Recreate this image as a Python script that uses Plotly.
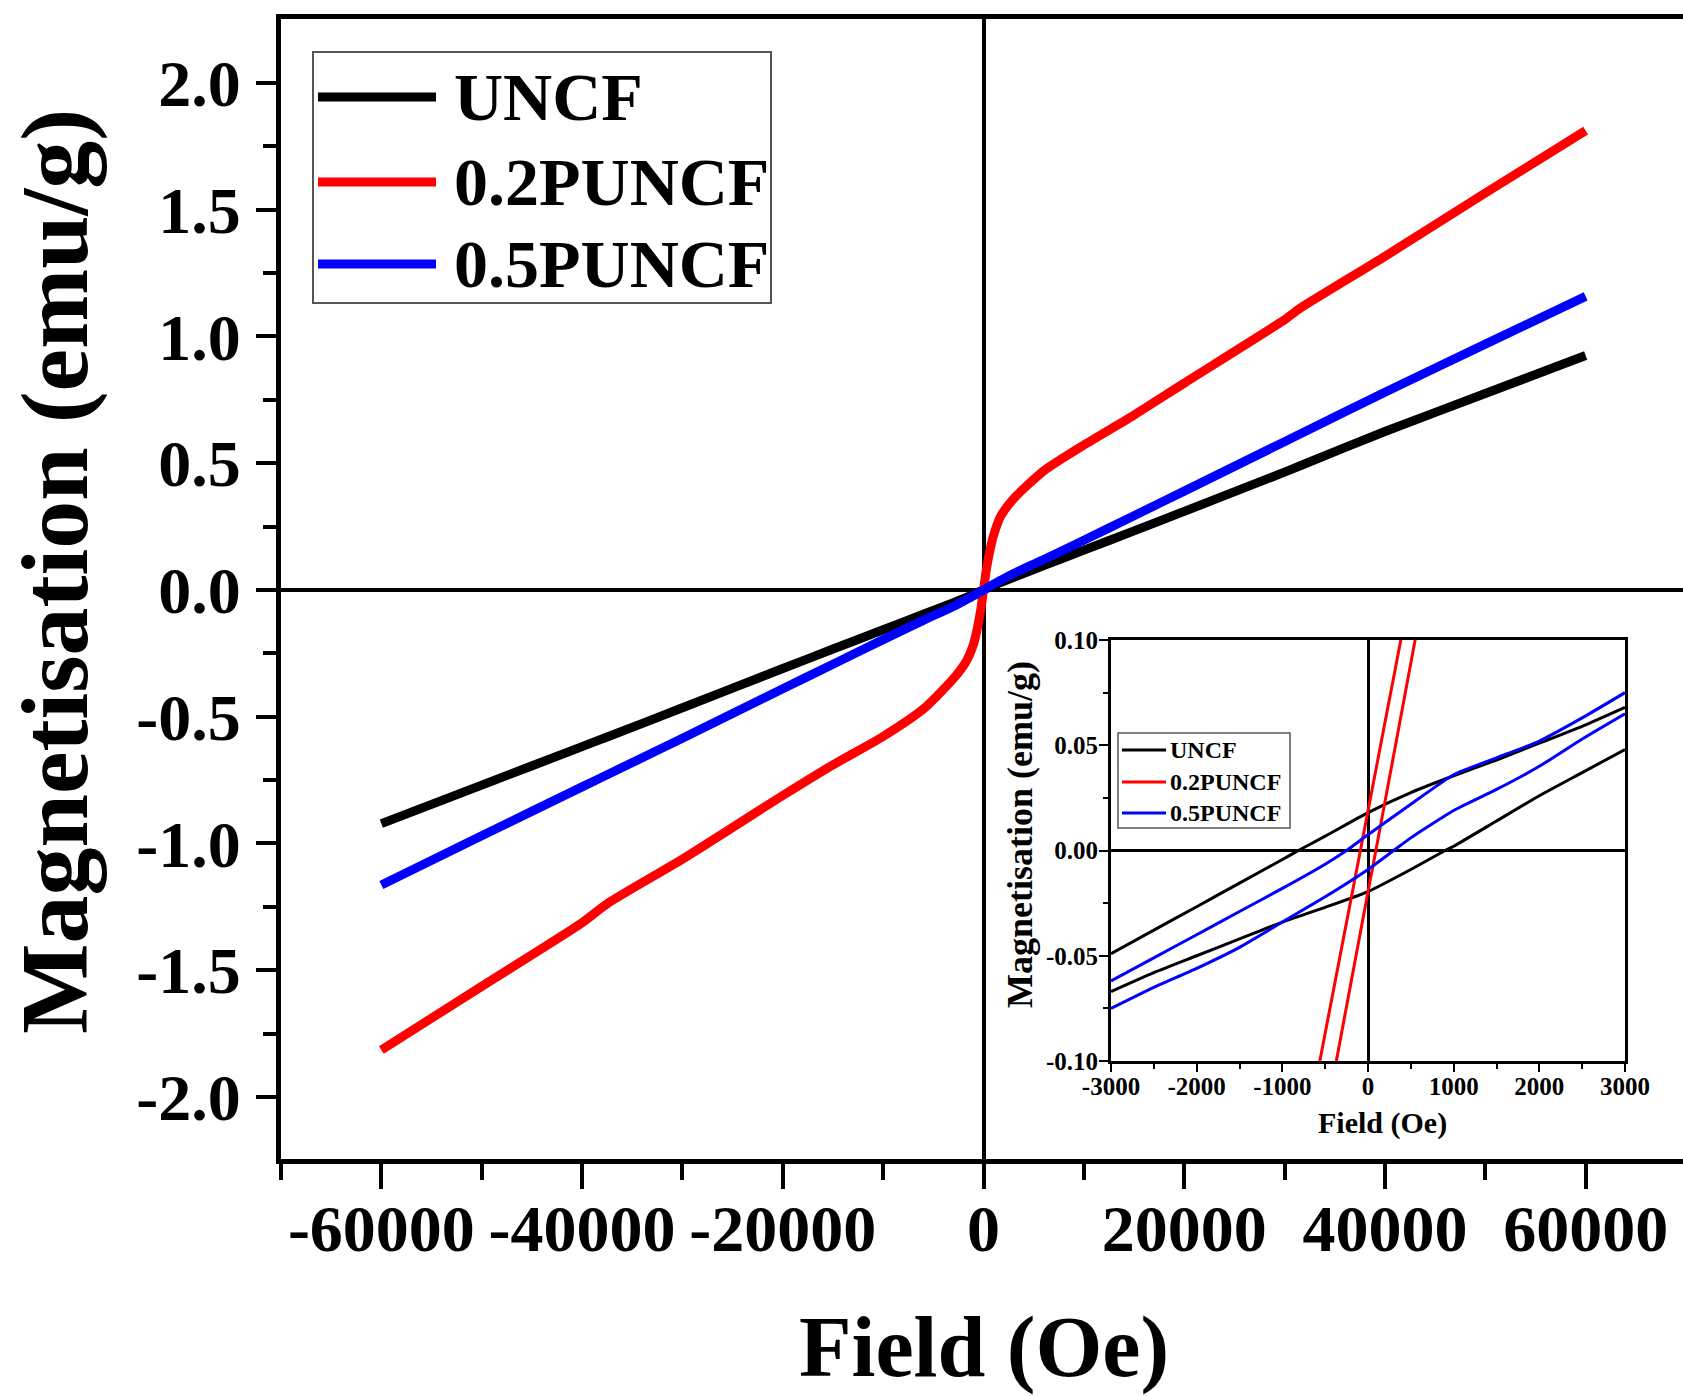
import plotly.graph_objects as go

# ---------------- data ----------------
series_names = ["UNCF", "0.2PUNCF", "0.5PUNCF"]
series_colors = ["#000000", "#ff0000", "#0000ff"]

# main panel (M-H curves), field in Oe, magnetisation in emu/g
field_main = [-60000, -50000, -40000, -37500, -30000, -20000, -15000, -10000, -6000, -3000,
              -1700, -1000, -700, -300, 0, 300, 700, 1000, 1700, 3000,
              6000, 10000, 15000, 20000, 30000, 31500, 40000, 50000, 60000]
m_uncf = [-0.922, -0.77, -0.618, -0.58, -0.465, -0.31, -0.233, -0.157, -0.096, -0.05,
          -0.029, -0.018, -0.012, -0.005, 0.0, 0.005, 0.012, 0.018, 0.029, 0.05,
          0.096, 0.157, 0.233, 0.31, 0.465, 0.489, 0.625, 0.775, 0.925]
m_02p = [-1.815, -1.564, -1.313, -1.238, -1.062, -0.811, -0.69, -0.578, -0.47, -0.35,
         -0.28, -0.215, -0.167, -0.085, 0.0, 0.085, 0.167, 0.215, 0.29, 0.36,
         0.47, 0.572, 0.69, 0.816, 1.066, 1.11, 1.316, 1.566, 1.812]
m_05p = [-1.164, -0.97, -0.777, -0.729, -0.585, -0.39, -0.293, -0.196, -0.12, -0.065,
         -0.038, -0.023, -0.016, -0.007, 0.0, 0.007, 0.016, 0.023, 0.038, 0.065,
         0.12, 0.196, 0.293, 0.39, 0.585, 0.614, 0.78, 0.97, 1.158]

# inset (low-field hysteresis loops): descending branch, gap, ascending branch
h_uncf = [3000, 2500, 2000, 1500, 1000, 500, 0, -500, -813, -1000, -1500, -2000, -2500, -3000,
          None,
          -3000, -2500, -2000, -1500, -1000, -500, 0, 500, 900, 1000, 1500, 2000, 2500, 3000]
l_uncf = [0.068, 0.059, 0.051, 0.043, 0.0355, 0.0275, 0.018, 0.0068, 0.0, -0.0043, -0.0155, -0.0267, -0.0378, -0.049,
          None,
          -0.067, -0.058, -0.050, -0.042, -0.034, -0.027, -0.0195, -0.009, 0.0, 0.002, 0.014, 0.026, 0.037, 0.048]
h_02p = [700, 550, 382, 0, -89, -560, -700,
         None,
         -700, -365, 0, 92, 549, 700]
l_02p = [0.165, 0.1354, 0.0998, 0.0188, 0.0, -0.0995, -0.129,
         None,
         -0.172, -0.099, -0.0196, 0.0, 0.0998, 0.1326]
h_05p = [3000, 2500, 2000, 1500, 1000, 500, 0, -250, -500, -1000, -1500, -2000, -2500, -3000,
         None,
         -3000, -2500, -2000, -1500, -1000, -500, 0, 300, 500, 1000, 1500, 2000, 2500, 3000]
l_05p = [0.075, 0.063, 0.052, 0.044, 0.036, 0.022, 0.0075, 0.0, -0.0065, -0.018, -0.029, -0.040, -0.051, -0.062,
         None,
         -0.075, -0.065, -0.056, -0.046, -0.034, -0.022, -0.009, 0.0, 0.006, 0.019, 0.029, 0.040, 0.053, 0.065]

# tick labels
main_xticks = [-60000, -40000, -20000, 0, 20000, 40000, 60000]
main_xticktext = ["-60000", "-40000", "-20000", "0", "20000", "40000", "60000"]
main_xminor = [-70000, -50000, -30000, -10000, 10000, 30000, 50000]
main_yticks = [-2.0, -1.5, -1.0, -0.5, 0.0, 0.5, 1.0, 1.5, 2.0]
main_yticktext = ["-2.0", "-1.5", "-1.0", "-0.5", "0.0", "0.5", "1.0", "1.5", "2.0"]
main_yminor = [-1.75, -1.25, -0.75, -0.25, 0.25, 0.75, 1.25, 1.75]
ins_xticks = [-3000, -2000, -1000, 0, 1000, 2000, 3000]
ins_xticktext = ["-3000", "-2000", "-1000", "0", "1000", "2000", "3000"]
ins_xminor = [-2500, -1500, -500, 500, 1500, 2500]
ins_yticks = [-0.10, -0.05, 0.0, 0.05, 0.10]
ins_yticktext = ["-0.10", "-0.05", "0.00", "0.05", "0.10"]
ins_yminor = [-0.075, -0.025, 0.025, 0.075]

x_title = "Field (Oe)"
y_title = "Magnetisation (emu/g)"

FONT = "Liberation Serif, Times New Roman, serif"

main_y = [m_uncf, m_02p, m_05p]
ins_x = [h_uncf, h_02p, h_05p]
ins_y = [l_uncf, l_02p, l_05p]

fig = go.Figure()
for name, col, yy in zip(series_names, series_colors, main_y):
    fig.add_trace(go.Scatter(x=field_main, y=yy, mode="lines", name=name,
                             line=dict(color=col, width=9, shape="spline", smoothing=0.6),
                             xaxis="x", yaxis="y", showlegend=False))
for name, col, xx, yy in zip(series_names, series_colors, ins_x, ins_y):
    fig.add_trace(go.Scatter(x=xx, y=yy, mode="lines", name=name, connectgaps=False,
                             line=dict(color=col, width=3, shape="spline", smoothing=0.5),
                             xaxis="x2", yaxis="y2", showlegend=False))

W, H = 1683, 1396
L, R, T, B = 281, 0, 19, 237
PW, PH = W - L - R, H - T - B


def px(xp):
    return (xp - L) / PW


def py(yp):
    return (H - B - yp) / PH


tickfont_main = dict(family=FONT, size=66, color="black", weight="bold")
tickfont_ins = dict(family=FONT, size=25, color="black", weight="bold")

fig.update_layout(
    width=W, height=H, autosize=False,
    margin=dict(l=L, r=R, t=T, b=B, pad=0, autoexpand=False),
    paper_bgcolor="white", plot_bgcolor="white",
    showlegend=False,
    xaxis=dict(range=[-70000, 69700], domain=[0, 1], anchor="y", automargin=False,
               tickmode="array", tickvals=main_xticks, ticktext=main_xticktext,
               ticks="outside", ticklen=25, tickwidth=4, tickcolor="black",
               showline=True, linewidth=5, linecolor="black", mirror=True,
               zeroline=True, zerolinecolor="black", zerolinewidth=3.5,
               showgrid=False, tickfont=tickfont_main, ticklabelstandoff=-17,
               minor=dict(tickvals=main_xminor, ticks="outside", ticklen=16,
                          tickwidth=4, tickcolor="black", showgrid=False)),
    yaxis=dict(range=[-2.245, 2.2525], domain=[0, 1], anchor="x", automargin=False,
               tickmode="array", tickvals=main_yticks, ticktext=main_yticktext,
               ticks="outside", ticklen=20, tickwidth=4, tickcolor="black",
               showline=True, linewidth=5, linecolor="black", mirror=False,
               zeroline=True, zerolinecolor="black", zerolinewidth=3.5,
               showgrid=False, tickfont=tickfont_main, ticklabelstandoff=2,
               minor=dict(tickvals=main_yminor, ticks="outside", ticklen=13,
                          tickwidth=4, tickcolor="black", showgrid=False)),
    xaxis2=dict(range=[-3000, 3000], domain=[px(1111), px(1625)], anchor="y2", automargin=False,
                tickmode="array", tickvals=ins_xticks, ticktext=ins_xticktext,
                ticks="outside", ticklen=8, tickwidth=2, tickcolor="black",
                showline=True, linewidth=3, linecolor="black", mirror=True,
                zeroline=True, zerolinecolor="black", zerolinewidth=2.5,
                showgrid=False, tickfont=tickfont_ins, ticklabelstandoff=-7,
                minor=dict(tickvals=ins_xminor, ticks="outside", ticklen=5,
                           tickwidth=2, tickcolor="black", showgrid=False)),
    yaxis2=dict(range=[-0.1, 0.1], domain=[py(1061), py(640)], anchor="x2", automargin=False,
                tickmode="array", tickvals=ins_yticks, ticktext=ins_yticktext,
                ticks="outside", ticklen=9, tickwidth=2, tickcolor="black",
                showline=True, linewidth=3, linecolor="black", mirror=True,
                zeroline=True, zerolinecolor="black", zerolinewidth=2.5,
                showgrid=False, tickfont=tickfont_ins, ticklabelstandoff=-4,
                minor=dict(tickvals=ins_yminor, ticks="outside", ticklen=5,
                           tickwidth=2, tickcolor="black", showgrid=False)),
)

annotations = []
shapes = []

# axis titles (main)
annotations.append(dict(text=x_title, xref="paper", yref="paper", x=px(984), y=py(1347),
                        xanchor="center", yanchor="middle", showarrow=False,
                        font=dict(family=FONT, size=86, color="black", weight="bold")))
annotations.append(dict(text=y_title, xref="paper", yref="paper", x=px(54), y=py(572),
                        xanchor="center", yanchor="middle", showarrow=False, textangle=-90,
                        font=dict(family=FONT, size=96, color="black", weight="bold")))
# axis titles (inset)
annotations.append(dict(text=x_title, xref="paper", yref="paper", x=px(1382), y=py(1123),
                        xanchor="center", yanchor="middle", showarrow=False,
                        font=dict(family=FONT, size=30, color="black", weight="bold")))
annotations.append(dict(text=y_title, xref="paper", yref="paper", x=px(1020), y=py(835),
                        xanchor="center", yanchor="middle", showarrow=False, textangle=-90,
                        font=dict(family=FONT, size=36, color="black", weight="bold")))

# main legend
shapes.append(dict(type="rect", xref="paper", yref="paper", x0=px(313), x1=px(771),
                   y0=py(303), y1=py(52), line=dict(color="#555555", width=2),
                   fillcolor="white", layer="above"))
for i, (name, col) in enumerate(zip(series_names, series_colors)):
    yrow = [97, 182, 264][i]
    shapes.append(dict(type="line", xref="paper", yref="paper", x0=px(318), x1=px(436),
                       y0=py(yrow), y1=py(yrow), line=dict(color=col, width=9), layer="above"))
    annotations.append(dict(text=name, xref="paper", yref="paper", x=px(452), y=py(yrow),
                            xanchor="left", yanchor="middle", showarrow=False,
                            font=dict(family=FONT, size=68, color="black", weight="bold")))

# inset legend
shapes.append(dict(type="rect", xref="paper", yref="paper", x0=px(1118), x1=px(1290),
                   y0=py(828), y1=py(733), line=dict(color="#555555", width=1.5),
                   fillcolor="white", layer="above"))
for i, (name, col) in enumerate(zip(series_names, series_colors)):
    yrow = [750, 782, 813][i]
    shapes.append(dict(type="line", xref="paper", yref="paper", x0=px(1122), x1=px(1166),
                       y0=py(yrow), y1=py(yrow), line=dict(color=col, width=3), layer="above"))
    annotations.append(dict(text=name, xref="paper", yref="paper", x=px(1168), y=py(yrow),
                            xanchor="left", yanchor="middle", showarrow=False,
                            font=dict(family=FONT, size=24, color="black", weight="bold")))

fig.update_layout(annotations=annotations, shapes=shapes)

post = ("document.documentElement.style.margin='0';document.body.style.margin='0';"
        "document.body.style.padding='0';document.documentElement.style.overflow='hidden';"
        "document.body.style.overflow='hidden';"
        "var gd=document.getElementById('{plot_id}');"
        "Plotly.relayout(gd,{width:%d,height:%d});" % (W, H))

fig.write_html("out.html", post_script=post, config={"displayModeBar": False})
